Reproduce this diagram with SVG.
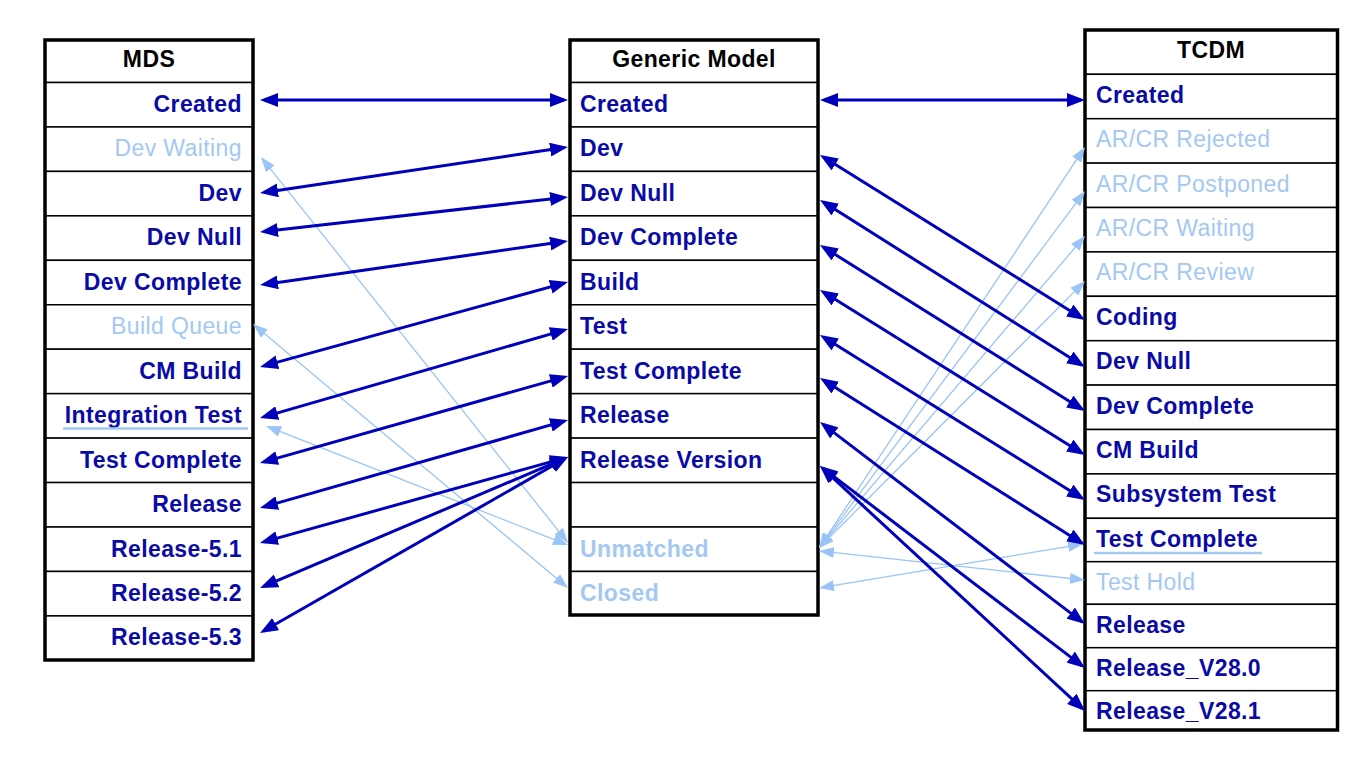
<svg xmlns="http://www.w3.org/2000/svg" width="1366" height="760" viewBox="0 0 1366 760">
<style>
.t{font-family:"Liberation Sans",Arial,sans-serif;font-size:23px;letter-spacing:0.4px}
.h{fill:#000;font-weight:bold;text-anchor:middle}
.d{fill:#0A0AA6;font-weight:bold}
.lr{fill:#A3C8F2}
.lb{fill:#A3C8F2;font-weight:bold}
.e{text-anchor:end}
.row{fill:#fff;stroke:#000;stroke-width:1.5}
.frame{fill:none;stroke:#000;stroke-width:3.5}
.ul{stroke:#A3C8F2;stroke-width:2.5}
.dk{stroke:#0000BB;stroke-width:3;fill:none;marker-start:url(#ad);marker-end:url(#ad)}
.lt{stroke:#99C4F5;stroke-width:1.3;fill:none;marker-start:url(#al);marker-end:url(#al)}
</style>
<defs>
<marker id="ad" markerUnits="userSpaceOnUse" markerWidth="18" markerHeight="14" refX="14" refY="7" orient="auto-start-reverse" viewBox="0 0 18 14">
<path d="M0,0 L18,7 L0,14 z" fill="#0000BB"/>
</marker>
<marker id="al" markerUnits="userSpaceOnUse" markerWidth="15" markerHeight="11" refX="13" refY="5.5" orient="auto-start-reverse" viewBox="0 0 15 11">
<path d="M0,0 L15,5.5 L0,11 z" fill="#99C4F5"/>
</marker>
</defs>
<rect width="1366" height="760" fill="#fff"/>

<g id="mds">
<g id="mds-header"><rect class="row" x="45" y="40" width="208" height="42.5"/><text class="t h" x="149" y="66.7">MDS</text></g>
<g id="mds-created"><rect class="row" x="45" y="82.5" width="208" height="44.45"/><text class="t d e" x="242" y="112">Created</text></g>
<g id="mds-devwaiting"><rect class="row" x="45" y="126.95" width="208" height="44.45"/><text class="t lr e" x="242" y="156.45">Dev Waiting</text></g>
<g id="mds-dev"><rect class="row" x="45" y="171.4" width="208" height="44.45"/><text class="t d e" x="242" y="200.9">Dev</text></g>
<g id="mds-devnull"><rect class="row" x="45" y="215.85" width="208" height="44.45"/><text class="t d e" x="242" y="245.35">Dev Null</text></g>
<g id="mds-devcomplete"><rect class="row" x="45" y="260.3" width="208" height="44.45"/><text class="t d e" x="242" y="289.8">Dev Complete</text></g>
<g id="mds-buildqueue"><rect class="row" x="45" y="304.75" width="208" height="44.45"/><text class="t lr e" x="242" y="334.25">Build Queue</text></g>
<g id="mds-cmbuild"><rect class="row" x="45" y="349.2" width="208" height="44.45"/><text class="t d e" x="242" y="378.7">CM Build</text></g>
<g id="mds-integrationtest"><rect class="row" x="45" y="393.65" width="208" height="44.45"/><text class="t d e" x="242" y="423.15">Integration Test</text><line class="ul" x1="63" y1="428.5" x2="248" y2="428.5"/></g>
<g id="mds-testcomplete"><rect class="row" x="45" y="438.1" width="208" height="44.45"/><text class="t d e" x="242" y="467.6">Test Complete</text></g>
<g id="mds-release"><rect class="row" x="45" y="482.55" width="208" height="44.45"/><text class="t d e" x="242" y="512.05">Release</text></g>
<g id="mds-release51"><rect class="row" x="45" y="527" width="208" height="44.45"/><text class="t d e" x="242" y="556.5">Release-5.1</text></g>
<g id="mds-release52"><rect class="row" x="45" y="571.45" width="208" height="44.45"/><text class="t d e" x="242" y="600.95">Release-5.2</text></g>
<g id="mds-release53"><rect class="row" x="45" y="615.9" width="208" height="44.1"/><text class="t d e" x="242" y="645.4">Release-5.3</text></g>
<rect class="frame" x="45" y="40" width="208" height="620"/>
</g>

<g id="generic">
<g id="gm-header"><rect class="row" x="570" y="40" width="248" height="42.5"/><text class="t h" x="694" y="66.7">Generic Model</text></g>
<g id="gm-created"><rect class="row" x="570" y="82.5" width="248" height="44.45"/><text class="t d" x="580" y="112">Created</text></g>
<g id="gm-dev"><rect class="row" x="570" y="126.95" width="248" height="44.45"/><text class="t d" x="580" y="156.45">Dev</text></g>
<g id="gm-devnull"><rect class="row" x="570" y="171.4" width="248" height="44.45"/><text class="t d" x="580" y="200.9">Dev Null</text></g>
<g id="gm-devcomplete"><rect class="row" x="570" y="215.85" width="248" height="44.45"/><text class="t d" x="580" y="245.35">Dev Complete</text></g>
<g id="gm-build"><rect class="row" x="570" y="260.3" width="248" height="44.45"/><text class="t d" x="580" y="289.8">Build</text></g>
<g id="gm-test"><rect class="row" x="570" y="304.75" width="248" height="44.45"/><text class="t d" x="580" y="334.25">Test</text></g>
<g id="gm-testcomplete"><rect class="row" x="570" y="349.2" width="248" height="44.45"/><text class="t d" x="580" y="378.7">Test Complete</text></g>
<g id="gm-release"><rect class="row" x="570" y="393.65" width="248" height="44.45"/><text class="t d" x="580" y="423.15">Release</text></g>
<g id="gm-releaseversion"><rect class="row" x="570" y="438.1" width="248" height="44.45"/><text class="t d" x="580" y="467.6">Release Version</text></g>
<g id="gm-empty"><rect class="row" x="570" y="482.55" width="248" height="44.45"/></g>
<g id="gm-unmatched"><rect class="row" x="570" y="527" width="248" height="44.45"/><text class="t lb" x="580" y="556.5">Unmatched</text></g>
<g id="gm-closed"><rect class="row" x="570" y="571.45" width="248" height="43.55"/><text class="t lb" x="580" y="600.95">Closed</text></g>
<rect class="frame" x="570" y="40" width="248" height="575"/>
</g>

<g id="tcdm">
<g id="tc-header"><rect class="row" x="1085" y="30" width="252.5" height="44.3"/><text class="t h" x="1211" y="57.7">TCDM</text></g>
<g id="tc-created"><rect class="row" x="1085" y="74.3" width="252.5" height="44.4"/><text class="t d" x="1096" y="102.8">Created</text></g>
<g id="tc-rejected"><rect class="row" x="1085" y="118.7" width="252.5" height="44.4"/><text class="t lr" x="1096" y="147.2">AR/CR Rejected</text></g>
<g id="tc-postponed"><rect class="row" x="1085" y="163.1" width="252.5" height="44.4"/><text class="t lr" x="1096" y="191.6">AR/CR Postponed</text></g>
<g id="tc-waiting"><rect class="row" x="1085" y="207.5" width="252.5" height="44.4"/><text class="t lr" x="1096" y="236">AR/CR Waiting</text></g>
<g id="tc-review"><rect class="row" x="1085" y="251.9" width="252.5" height="44.4"/><text class="t lr" x="1096" y="280.4">AR/CR Review</text></g>
<g id="tc-coding"><rect class="row" x="1085" y="296.3" width="252.5" height="44.4"/><text class="t d" x="1096" y="324.8">Coding</text></g>
<g id="tc-devnull"><rect class="row" x="1085" y="340.7" width="252.5" height="44.4"/><text class="t d" x="1096" y="369.2">Dev Null</text></g>
<g id="tc-devcomplete"><rect class="row" x="1085" y="385.1" width="252.5" height="44.4"/><text class="t d" x="1096" y="413.6">Dev Complete</text></g>
<g id="tc-cmbuild"><rect class="row" x="1085" y="429.5" width="252.5" height="44.4"/><text class="t d" x="1096" y="458">CM Build</text></g>
<g id="tc-subsystemtest"><rect class="row" x="1085" y="473.9" width="252.5" height="44.4"/><text class="t d" x="1096" y="502.4">Subsystem Test</text></g>
<g id="tc-testcomplete"><rect class="row" x="1085" y="518.3" width="252.5" height="43.4"/><text class="t d" x="1096" y="546.8">Test Complete</text><line class="ul" x1="1094" y1="553" x2="1262" y2="553"/></g>
<g id="tc-testhold"><rect class="row" x="1085" y="561.7" width="252.5" height="42.6"/><text class="t lr" x="1096" y="590.2">Test Hold</text></g>
<g id="tc-release"><rect class="row" x="1085" y="604.3" width="252.5" height="43.4"/><text class="t d" x="1096" y="632.8">Release</text></g>
<g id="tc-v280"><rect class="row" x="1085" y="647.7" width="252.5" height="43"/><text class="t d" x="1096" y="676.2">Release_V28.0</text></g>
<g id="tc-v281"><rect class="row" x="1085" y="690.7" width="252.5" height="39.3"/><text class="t d" x="1096" y="719.2">Release_V28.1</text></g>
<rect class="frame" x="1085" y="30" width="252.5" height="700"/>
</g>

<g id="connectors">
<line class="lt" x1="262.2" y1="158.6" x2="566.8" y2="541.4"/>
<line class="lt" x1="254.5" y1="325.3" x2="566.5" y2="586.7"/>
<line class="lt" x1="267.9" y1="426.7" x2="566.1" y2="544.3"/>
<line class="lt" x1="820.1" y1="546.3" x2="1083.9" y2="148.7"/>
<line class="lt" x1="820.2" y1="546.4" x2="1083.8" y2="192.6"/>
<line class="lt" x1="820.3" y1="546.5" x2="1083.7" y2="237.5"/>
<line class="lt" x1="820.4" y1="546.6" x2="1083.6" y2="282.4"/>
<line class="lt" x1="821" y1="551.2" x2="1083" y2="579.8"/>
<line class="lt" x1="821" y1="587.7" x2="1081" y2="544.3"/>

<line class="dk" x1="264" y1="100" x2="564" y2="100"/>
<line class="dk" x1="264" y1="192.4" x2="564" y2="147.6"/>
<line class="dk" x1="264" y1="231.5" x2="564" y2="197.5"/>
<line class="dk" x1="264" y1="284.4" x2="564" y2="241.6"/>
<line class="dk" x1="263.9" y1="365.9" x2="564.1" y2="283.1"/>
<line class="dk" x1="263.8" y1="416.9" x2="564.2" y2="330.1"/>
<line class="dk" x1="263.8" y1="461.9" x2="564.2" y2="377.1"/>
<line class="dk" x1="263.8" y1="506.9" x2="564.2" y2="421.1"/>
<line class="dk" x1="263.8" y1="541.9" x2="564.2" y2="458.1"/>
<line class="dk" x1="263.7" y1="586.4" x2="564.3" y2="458.6"/>
<line class="dk" x1="263.5" y1="631" x2="564.5" y2="459"/>

<line class="dk" x1="824" y1="100" x2="1081" y2="100"/>
<line class="dk" x1="823.4" y1="157.1" x2="1081.6" y2="317.9"/>
<line class="dk" x1="823.4" y1="202.1" x2="1081.6" y2="364.9"/>
<line class="dk" x1="823.4" y1="247.1" x2="1081.6" y2="408.9"/>
<line class="dk" x1="823.4" y1="292.1" x2="1081.6" y2="452.9"/>
<line class="dk" x1="823.4" y1="337.1" x2="1081.6" y2="497.9"/>
<line class="dk" x1="823.4" y1="380.1" x2="1081.6" y2="542.9"/>
<line class="dk" x1="823.2" y1="424.4" x2="1081.8" y2="621.6"/>
<line class="dk" x1="823.2" y1="468.4" x2="1081.8" y2="665.6"/>
<line class="dk" x1="822.9" y1="468.7" x2="1082.1" y2="708.3"/>
</g>
</svg>
